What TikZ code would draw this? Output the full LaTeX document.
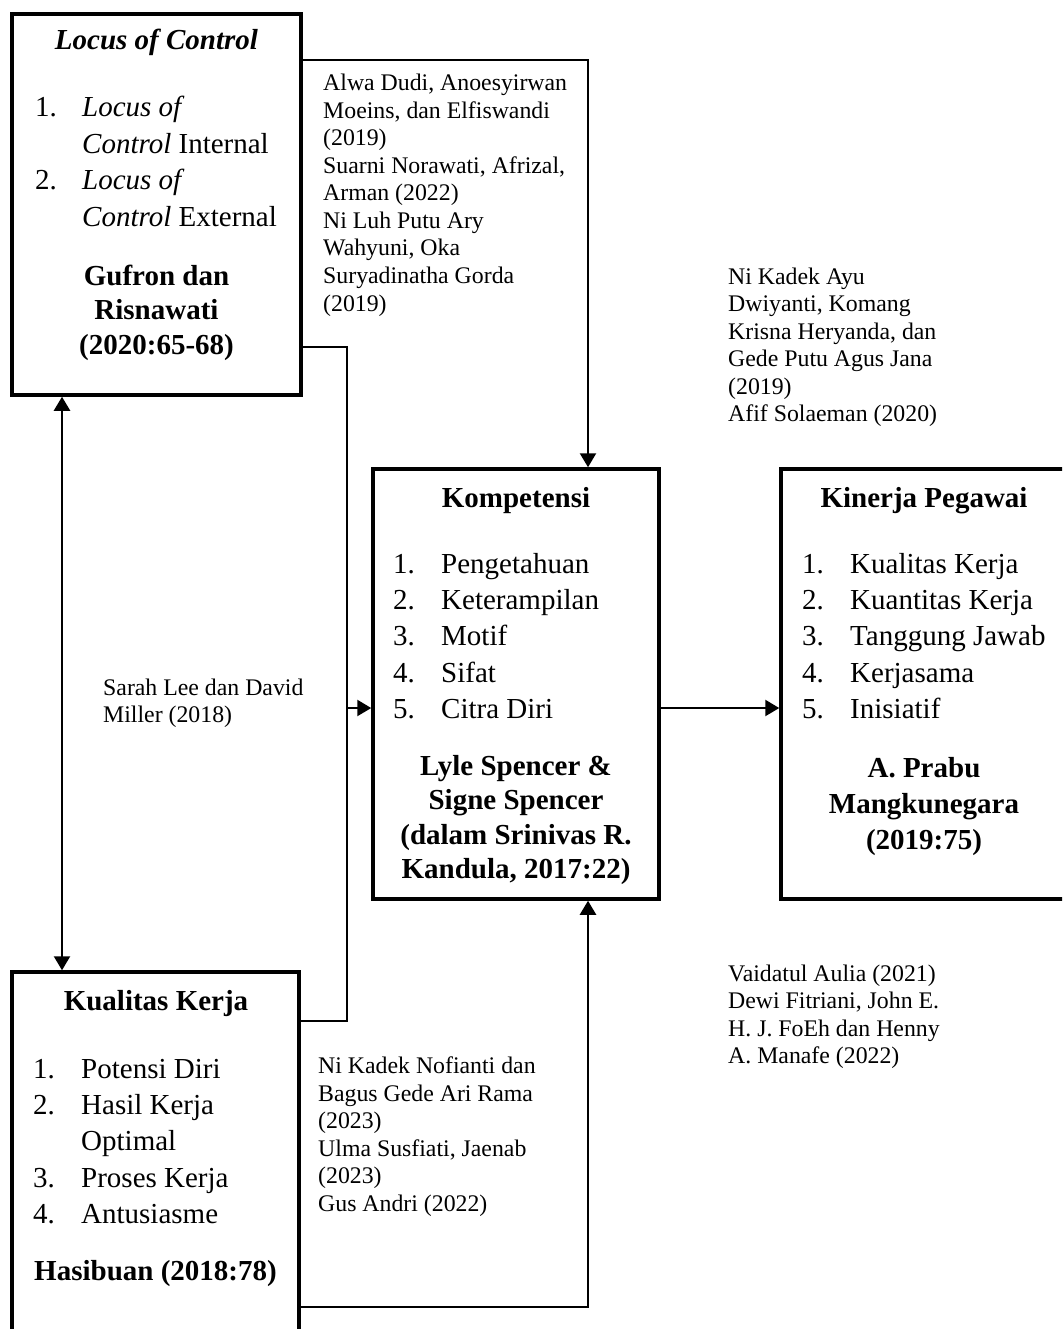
\documentclass[tikz,border=0pt]{standalone}
\usepackage{fontspec}
\setmainfont{Liberation Serif}
\usetikzlibrary{arrows.meta,calc}
\begin{document}
\begin{tikzpicture}[x=1pt,y=-1pt,
  box/.style={draw, line width=3.5pt, rectangle, inner sep=0pt},
  conn/.style={line width=2.4pt},
  arr/.style={conn, -{Triangle[length=14pt,width=16pt]}},
  darr/.style={conn, {Triangle[length=14pt,width=16pt]}-{Triangle[length=14pt,width=16pt]}},
  cite/.style={font=\fontsize{23.8}{27.5}\selectfont, align=left, anchor=base west, inner sep=0pt},
  lst/.style={font=\fontsize{29}{36.4}\selectfont, align=left, anchor=base west, inner sep=0pt},
  ttl/.style={font=\fontsize{29}{34.5}\selectfont\bfseries, align=center, anchor=base, inner sep=0pt},
]
\clip (0,0) rectangle (1062,1329);
\fill[white] (0,0) rectangle (1062,1329);

% boxes
\node[box, minimum width=289pt, minimum height=381pt] (A) at (156.5,204.5) {};
\node[box, minimum width=286pt, minimum height=430pt] (K) at (516,684) {};
\node[box, minimum width=299pt, minimum height=430pt] (P) at (930.5,684) {};
\node[box, minimum width=287pt, minimum height=373pt] (Q) at (155.5,1158.5) {};

% (multi-line nodes are placed at the baseline of their LAST line)
% Locus of Control
\node[ttl, font=\fontsize{29}{34.5}\selectfont\bfseries\itshape] (At) at (156.5,50) {Locus of Control};
\node[lst] (An1) at (35,117) {1.};
\node[lst] (An2) at (35,190) {2.};
\node[lst] (Ai) at (82,226.2) {\textit{Locus of}\\\textit{Control} Internal\\\textit{Locus of}\\\textit{Control} External};
\node[ttl] (Ac) at (156.5,354) {Gufron dan\\Risnawati\\(2020:65-68)};

% citations
\node[cite] (c1) at (323,311) {Alwa Dudi, Anoesyirwan\\Moeins, dan Elfiswandi\\(2019)\\Suarni Norawati, Afrizal,\\Arman (2022)\\Ni Luh Putu Ary\\Wahyuni, Oka\\Suryadinatha Gorda\\(2019)};
\node[cite] (c2) at (728,421.5) {Ni Kadek Ayu\\Dwiyanti, Komang\\Krisna Heryanda, dan\\Gede Putu Agus Jana\\(2019)\\Afif Solaeman (2020)};
\node[cite] (c3) at (103,722.5) {Sarah Lee dan David\\Miller (2018)};
\node[cite] (c4) at (728,1063.5) {Vaidatul Aulia (2021)\\Dewi Fitriani, John E.\\H. J. FoEh dan Henny\\A. Manafe (2022)};
\node[cite] (c5) at (318,1211) {Ni Kadek Nofianti dan\\Bagus Gede Ari Rama\\(2023)\\Ulma Susfiati, Jaenab\\(2023)\\Gus Andri (2022)};

% Kompetensi
\node[ttl] (Kt) at (516,507) {Kompetensi};
\node[lst] (Kn) at (393,718.6) {1.\\2.\\3.\\4.\\5.};
\node[lst] (Ki) at (441,718.6) {Pengetahuan\\Keterampilan\\Motif\\Sifat\\Citra Diri};
\node[ttl] (Kc) at (516,878.5) {Lyle Spencer \&\\Signe Spencer\\(dalam Srinivas R.\\Kandula, 2017:22)};

% Kinerja Pegawai
\node[ttl] (Pt) at (924,507) {Kinerja Pegawai};
\node[lst] (Pn) at (802,718.6) {1.\\2.\\3.\\4.\\5.};
\node[lst] (Pi) at (850,718.6) {Kualitas Kerja\\Kuantitas Kerja\\Tanggung Jawab\\Kerjasama\\Inisiatif};
\node[ttl, font=\fontsize{29}{36}\selectfont\bfseries] (Pc) at (924,849) {A. Prabu\\Mangkunegara\\(2019:75)};

% Kualitas Kerja
\node[ttl] (Qt) at (156,1010) {Kualitas Kerja};
\node[lst] (Qn) at (33,1223.6) {1.\\2.\\\strut\\3.\\4.};
\node[lst] (Qi) at (81,1223.6) {Potensi Diri\\Hasil Kerja\\Optimal\\Proses Kerja\\Antusiasme};
\node[ttl] (Qc) at (155.5,1280) {Hasibuan (2018:78)};

% connectors
\coordinate (b1) at (588,60);
\coordinate (b2) at (347,347);
\coordinate (b3) at (347,1021);
\coordinate (b4) at (347,708);
\coordinate (b5) at (588,1307);
\coordinate (b6) at (62,700);

\draw[arr] (A.east |- b1) -| (K.north -| b1);
\draw[conn] (A.east |- b2) -| (b3) -- (Q.east |- b3);
\draw[arr] (b4) -- (K.west |- b4);
\draw[arr] (K.east |- b4) -- (P.west |- b4);
\draw[arr] (Q.east |- b5) -| (K.south -| b5);
\draw[darr] (A.south -| b6) -- (Q.north -| b6);
\end{tikzpicture}
\end{document}
